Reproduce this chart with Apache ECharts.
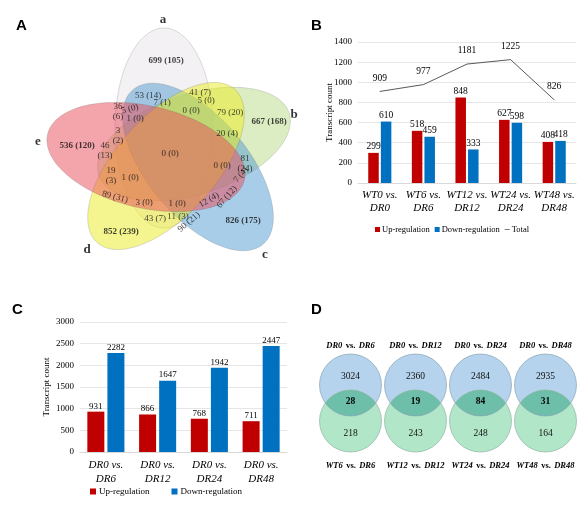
<!DOCTYPE html>
<html><head><meta charset="utf-8">
<script src="https://cdn.jsdelivr.net/npm/echarts@6/dist/echarts.min.js"></script>
<style>html,body{margin:0;padding:0;background:#fff}#c{width:588px;height:505px}</style>
</head><body><div id="c"></div>
<script>
// ---------- Panel B data ----------
const bCategories = ['WT0 vs.\nDR0', 'WT6 vs.\nDR6', 'WT12 vs.\nDR12', 'WT24 vs.\nDR24', 'WT48 vs.\nDR48'];
const bUp = [299, 518, 848, 627, 408];
const bDown = [610, 459, 333, 598, 418];
const bTotal = [909, 977, 1181, 1225, 826];
// ---------- Panel C data ----------
const cCategories = ['DR0 vs.\nDR6', 'DR0 vs.\nDR12', 'DR0 vs.\nDR24', 'DR0 vs.\nDR48'];
const cUp = [931, 866, 768, 711];
const cDown = [2282, 1647, 1942, 2447];
// ---------- Panel D data ----------
const dTopTitles = [['DR0', 'DR6'], ['DR0', 'DR12'], ['DR0', 'DR24'], ['DR0', 'DR48']];
const dBottomTitles = [['WT6', 'DR6'], ['WT12', 'DR12'], ['WT24', 'DR24'], ['WT48', 'DR48']];
const dTop = [3024, 2360, 2484, 2935];
const dOverlap = [28, 19, 84, 31];
const dBottom = [218, 243, 248, 164];
// ---------- Panel A data ----------
const vennSetNames = ['a', 'b', 'c', 'd', 'e'];
const vennRegionLabels = [
  '699 (105)', '667 (168)', '826 (175)', '852 (239)', '536 (120)',
  '53 (14)', '41 (7)', '7 (1)', '5 (0)', '36\n(6)', '5 (0)', '1 (0)', '0 (0)', '79 (20)', '20 (4)',
  '3\n(2)', '46\n(13)', '0 (0)', '0 (0)', '81\n(24)', '19\n(3)', '1 (0)', '7 (4)', '89 (31)', '3 (0)',
  '1 (0)', '12 (4)', '67 (12)', '43 (7)', '11 (3)', '90 (21)'
];

// ---------- layout (positions / geometry) ----------
const vennRegionPos = [ // [x, y, rotate, bold]
  [166, 61, 0, 1], [269, 122, 0, 1], [243, 221, 0, 1], [121, 232, 0, 1], [77, 146, 0, 1],
  [148, 96, 0, 0], [200, 93, 0, 0], [162, 103, 0, 0], [206, 101, 0, 0], [118, 112, 0, 0], [130, 109, 15, 0],
  [135, 119, 0, 0], [191, 111, 0, 0], [230, 113, 0, 0], [227, 134, 0, 0], [118, 136, 0, 0], [105, 151, 0, 0],
  [170, 154, 0, 0], [222, 166, 0, 0], [245, 164, 0, 0], [111, 176, 0, 0], [130, 178, 0, 0], [241, 175, 50, 0],
  [115, 197, -15, 0], [144, 203, 0, 0], [177, 204, 0, 0], [209, 200, 30, 0], [227, 197, 50, 0],
  [155, 219, 0, 0], [178, 217, 0, 0], [189, 222, 40, 0]
];
const vennSetPos = [[163, 20], [294, 115], [265, 255], [87, 250], [38, 142]];
const vennEllipses = [ // cx, cy, semi-major, semi-minor, angle(deg, screen), fill
  [164, 128, 100, 49, 90, '#e7e3e8'],
  [194, 144, 100, 50, -18, '#b9db89'],
  [198, 167, 101, 50, 50, '#519bd1'],
  [166, 166, 103, 50, -48, '#ebeb1f'],
  [146, 157, 101, 51, 13, '#e94b59']
];

const SERIF = 'Liberation Serif';
const SANS = 'Liberation Sans';
const UP = '#c00000', DOWN = '#0070c0';

const chart = echarts.init(document.getElementById('c'), null, {renderer: 'canvas'});

function ellipsePoints(e, api) {
  const [cx, cy, A, B, ang] = e;
  const t0 = ang * Math.PI / 180, ct = Math.cos(t0), st = Math.sin(t0);
  const pts = [];
  for (let i = 0; i < 120; i++) {
    const t = i / 120 * Math.PI * 2;
    const x = cx + A * Math.cos(t) * ct - B * Math.sin(t) * st;
    const y = cy + A * Math.cos(t) * st + B * Math.sin(t) * ct;
    pts.push(api.coord([x, y]));
  }
  return pts;
}

const hiddenAxis = {show: false};
const plain = v => String(v);

const option = {
  animation: false,
  backgroundColor: '#fff',
  textStyle: {fontFamily: SERIF, color: '#000'},
  grid: [
    {left: 358, right: 12, top: 42, height: 141},       // B
    {left: 80, width: 207, top: 322, height: 130},      // C
    {left: 0, top: 0, width: 300, height: 290},         // A (pixel space)
    {left: 318, top: 340, width: 260, height: 130}      // D
  ],
  xAxis: [
    {gridIndex: 0, type: 'category', data: bCategories,
      axisLine: {lineStyle: {color: '#d9d9d9'}}, axisTick: {show: false},
      axisLabel: {fontFamily: SERIF, fontStyle: 'italic', fontSize: 11, lineHeight: 13, color: '#000', margin: 6, interval: 0}},
    {gridIndex: 1, type: 'category', data: cCategories,
      axisLine: {lineStyle: {color: '#d9d9d9'}}, axisTick: {show: false},
      axisLabel: {fontFamily: SERIF, fontStyle: 'italic', fontSize: 11, lineHeight: 14, color: '#000', margin: 6, interval: 0}},
    Object.assign({gridIndex: 2, type: 'value', min: 0, max: 300}, hiddenAxis),
    Object.assign({gridIndex: 3, type: 'category', data: [0, 1, 2, 3]}, hiddenAxis)
  ],
  yAxis: [
    {gridIndex: 0, type: 'value', min: 0, max: 1400, interval: 200,
      axisLine: {show: false}, axisTick: {show: false},
      splitLine: {lineStyle: {color: '#e6e6e6'}},
      axisLabel: {fontFamily: SERIF, fontSize: 9, color: '#000', margin: 6, formatter: plain},
      name: 'Transcript count', nameLocation: 'middle', nameGap: 23.5, nameMoveOverlap: false,
      nameTextStyle: {fontFamily: SERIF, fontSize: 9, color: '#000'}},
    {gridIndex: 1, type: 'value', min: 0, max: 3000, interval: 500,
      axisLine: {show: false}, axisTick: {show: false},
      splitLine: {lineStyle: {color: '#e6e6e6'}},
      axisLabel: {fontFamily: SERIF, fontSize: 9, color: '#000', margin: 6, formatter: plain},
      name: 'Transcript count', nameLocation: 'middle', nameGap: 28.5, nameMoveOverlap: false,
      nameTextStyle: {fontFamily: SERIF, fontSize: 9, color: '#000'}},
    Object.assign({gridIndex: 2, type: 'value', min: 0, max: 290, inverse: true}, hiddenAxis),
    Object.assign({gridIndex: 3, type: 'value', min: 0, max: 130, inverse: true}, hiddenAxis)
  ],
  legend: [
    {left: 375, top: 225, itemWidth: 5, itemHeight: 5, itemGap: 5, padding: 0,
      textStyle: {fontFamily: SERIF, fontSize: 8.5, color: '#000', padding: [0, 0, 0, -3]},
      data: [{name: 'Up-regulation', icon: 'rect'}, {name: 'Down-regulation', icon: 'rect'},
             {name: 'Total', icon: 'path://M0,0H10V1.6H0Z'}]},
    {left: 90, top: 487, itemWidth: 6, itemHeight: 6, itemGap: 22, padding: 0,
      textStyle: {fontFamily: SERIF, fontSize: 9, color: '#000', padding: [0, 0, 0, -2]},
      data: [{name: 'Up-regulation', icon: 'rect'}, {name: 'Down-regulation', icon: 'rect'}]}
  ],
  graphic: [
    {type: 'text', left: 16, top: 18, style: {text: 'A', font: 'bold 15px ' + SANS, fill: '#000'}},
    {type: 'text', left: 311, top: 18, style: {text: 'B', font: 'bold 15px ' + SANS, fill: '#000'}},
    {type: 'text', left: 12, top: 302, style: {text: 'C', font: 'bold 15px ' + SANS, fill: '#000'}},
    {type: 'text', left: 311, top: 302, style: {text: 'D', font: 'bold 15px ' + SANS, fill: '#000'}}
  ],
  series: [
    // ---- B ----
    {name: 'Up-regulation', type: 'bar', xAxisIndex: 0, yAxisIndex: 0, data: bUp,
      barWidth: 10.5, barGap: '20%', itemStyle: {color: UP},
      label: {show: true, position: 'top', distance: 1, fontFamily: SERIF, fontSize: 9.5, color: '#000'}},
    {name: 'Down-regulation', type: 'bar', xAxisIndex: 0, yAxisIndex: 0, data: bDown,
      barWidth: 10.5, itemStyle: {color: DOWN},
      label: {show: true, position: 'top', distance: 1, fontFamily: SERIF, fontSize: 9.5, color: '#000'}},
    {name: 'Total', type: 'line', xAxisIndex: 0, yAxisIndex: 0, data: bTotal,
      symbol: 'circle', symbolSize: 0.5, showSymbol: true,
      lineStyle: {color: '#595959', width: 1}, itemStyle: {color: '#595959'},
      label: {show: true, position: 'top', distance: 8, fontFamily: SERIF, fontSize: 9.5, color: '#000'}},
    // ---- C ----
    {name: 'Up-regulation', type: 'bar', xAxisIndex: 1, yAxisIndex: 1, data: cUp,
      barWidth: 17, barGap: '18%', itemStyle: {color: UP},
      label: {show: true, position: 'top', distance: 1, fontFamily: SERIF, fontSize: 9, color: '#000'}},
    {name: 'Down-regulation', type: 'bar', xAxisIndex: 1, yAxisIndex: 1, data: cDown,
      barWidth: 17, itemStyle: {color: DOWN},
      label: {show: true, position: 'top', distance: 1, fontFamily: SERIF, fontSize: 9, color: '#000'}},
    // ---- A : ellipses ----
    {type: 'custom', xAxisIndex: 2, yAxisIndex: 2, silent: true, z: 1,
      data: vennEllipses.map((e, i) => [e[0], e[1], i]),
      renderItem: function (params, api) {
        const e = vennEllipses[params.dataIndex];
        return {type: 'polygon', shape: {points: ellipsePoints(e, api)},
          style: {fill: e[5], opacity: 0.5, stroke: 'rgba(90,90,90,0.7)', lineWidth: 0.6}};
      }},
    // ---- A : region labels ----
    {type: 'scatter', xAxisIndex: 2, yAxisIndex: 2, silent: true, z: 5,
      symbolSize: 1, itemStyle: {color: 'rgba(0,0,0,0)'},
      data: vennRegionLabels.map((t, i) => ({
        value: [vennRegionPos[i][0], vennRegionPos[i][1]],
        label: {show: true, position: 'inside', formatter: t, rotate: vennRegionPos[i][2],
          fontFamily: SERIF, fontSize: 9, lineHeight: 10, color: '#111',
          fontWeight: vennRegionPos[i][3] ? 'bold' : 'normal'}
      }))},
    // ---- A : set names ----
    {type: 'scatter', xAxisIndex: 2, yAxisIndex: 2, silent: true, z: 5,
      symbolSize: 1, itemStyle: {color: 'rgba(0,0,0,0)'},
      data: vennSetNames.map((t, i) => ({
        value: vennSetPos[i],
        label: {show: true, position: 'inside', formatter: t,
          fontFamily: SERIF, fontSize: 13, fontWeight: 'bold', color: '#000'}
      }))},
    // ---- D ----
    {type: 'custom', xAxisIndex: 3, yAxisIndex: 3, silent: true, z: 2,
      data: dTop.map((v, i) => [i, dTop[i], dOverlap[i], dBottom[i]]),
      renderItem: function (params, api) {
        const i = params.dataIndex;
        const top = api.coord([i, 45]);
        const bot = api.coord([i, 81]);
        const r = api.size([0, 31])[1];
        const cx = top[0];
        const d = bot[1] - top[1];
        const h = Math.sqrt(r * r - (d / 2) * (d / 2));
        const a0 = Math.asin(h / r);
        const lens = [];
        const N = 40;
        for (let k = 0; k <= N; k++) {
          const t = -a0 + (2 * a0) * k / N;
          lens.push([cx + r * Math.sin(t), top[1] + r * Math.cos(t)]);
        }
        for (let k = 0; k <= N; k++) {
          const t = a0 - (2 * a0) * k / N;
          lens.push([cx + r * Math.sin(t), bot[1] - r * Math.cos(t)]);
        }
        const tPos = api.coord([i, 6]), bPos = api.coord([i, 126]);
        const vTop = api.coord([i, 36]), vOv = api.coord([i, 62]), vBot = api.coord([i, 93]);
        const rich = {
          i: {fontFamily: SERIF, fontStyle: 'italic', fontWeight: 'bold', fontSize: 8.5, fill: '#000'},
          n: {fontFamily: SERIF, fontWeight: 'bold', fontSize: 8.5, fill: '#000'}
        };
        const tt = dTopTitles[i], bt = dBottomTitles[i];
        return {type: 'group', children: [
          {type: 'circle', shape: {cx: cx, cy: top[1], r: r}, style: {fill: '#b5d3ec', stroke: 'none'}},
          {type: 'circle', shape: {cx: cx, cy: bot[1], r: r}, style: {fill: '#b2e6c9', stroke: 'none'}},
          {type: 'polygon', shape: {points: lens}, style: {fill: '#6dbfa9', stroke: 'none'}},
          {type: 'circle', shape: {cx: cx, cy: top[1], r: r}, style: {fill: 'none', stroke: '#8aa4b4', lineWidth: 0.7}},
          {type: 'circle', shape: {cx: cx, cy: bot[1], r: r}, style: {fill: 'none', stroke: '#8fb4a3', lineWidth: 0.7}},
          {type: 'text', x: cx, y: tPos[1], style: {text: '{i|' + tt[0] + '} {n|vs.} {i|' + tt[1] + '}', rich: rich,
            align: 'center', verticalAlign: 'middle'}},
          {type: 'text', x: cx, y: bPos[1], style: {text: '{i|' + bt[0] + '} {n|vs.} {i|' + bt[1] + '}', rich: rich,
            align: 'center', verticalAlign: 'middle'}},
          {type: 'text', x: cx, y: vTop[1], style: {text: String(api.value(1)), font: '9.5px ' + SERIF, fill: '#111',
            align: 'center', verticalAlign: 'middle'}},
          {type: 'text', x: cx, y: vOv[1], style: {text: String(api.value(2)), font: 'bold 9.5px ' + SERIF, fill: '#000',
            align: 'center', verticalAlign: 'middle'}},
          {type: 'text', x: cx, y: vBot[1], style: {text: String(api.value(3)), font: '9.5px ' + SERIF, fill: '#111',
            align: 'center', verticalAlign: 'middle'}}
        ]};
      }}
  ]
};
chart.setOption(option);
</script></body></html>
